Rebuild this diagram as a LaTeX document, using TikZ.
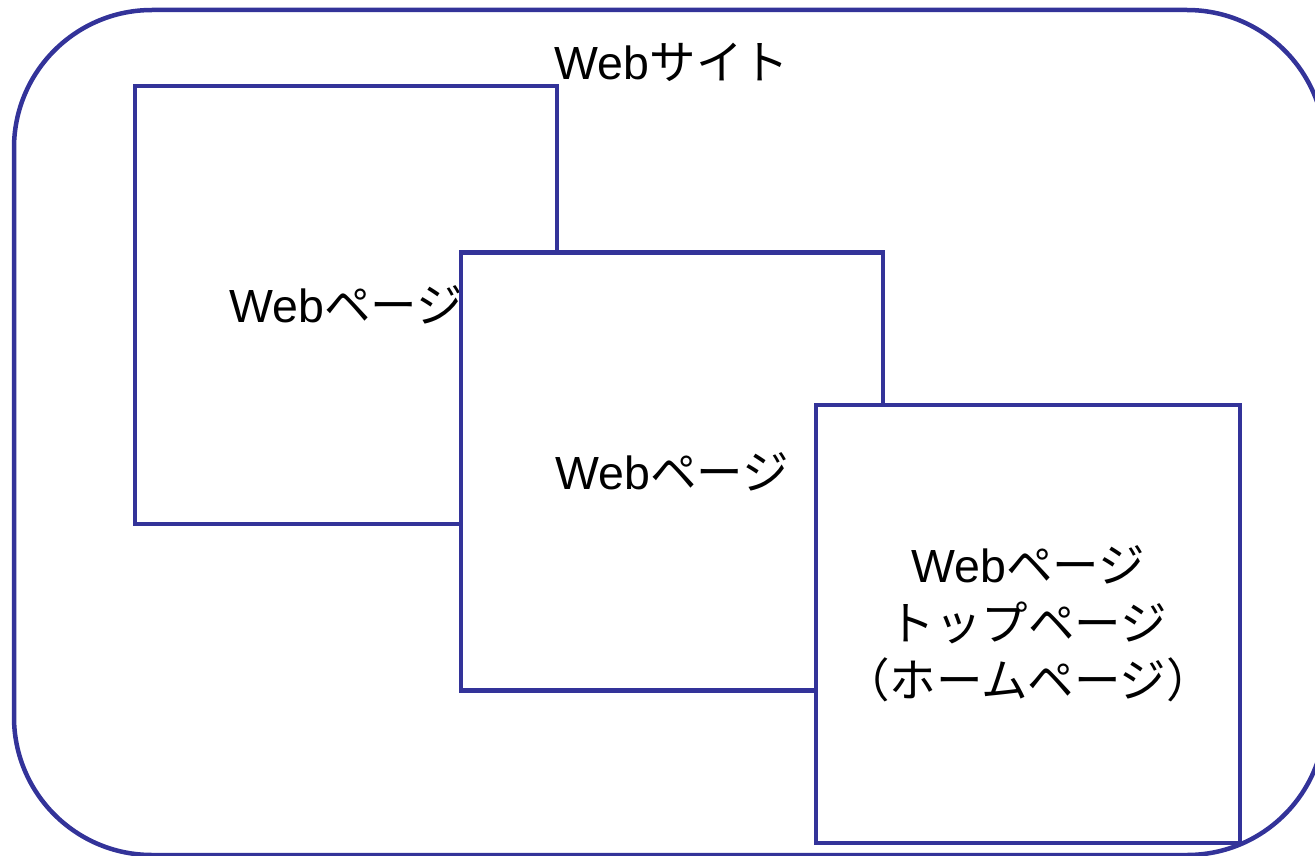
\documentclass[tikz,border=0pt]{standalone}
\usepackage{fontspec}
\setmainfont{Liberation Sans}
\newfontfamily\jp{Noto Sans CJK JP}
\definecolor{frame}{RGB}{51,51,153}
\begin{document}
\begin{tikzpicture}[x=1pt,y=-1pt,
  every node/.style={font=\fontsize{46.5}{57.5}\selectfont},
  page/.style={draw=frame, line width=4.5pt, fill=white, inner sep=0pt,
    minimum width=422pt, minimum height=438pt, align=center}]
\useasboundingbox (0,0) rectangle (1315,856);
\clip (0,0) rectangle (1315,856);
\draw[frame, line width=4.5pt, rounded corners=138pt] (14,10) rectangle (1325,855);
\node (site) at (672,62) {Web{\jp サイト}};
\node[page] (p1) at (346,305) {Web{\jp ページ}};
\node[page] (p2) at (672,471.5) {Web{\jp ページ}};
\node[page, minimum width=424pt] (p3) at (1028,624) {Web{\jp ページ}\\{\jp トップページ}\\{\jp （ホームページ）}};
\end{tikzpicture}
\end{document}
